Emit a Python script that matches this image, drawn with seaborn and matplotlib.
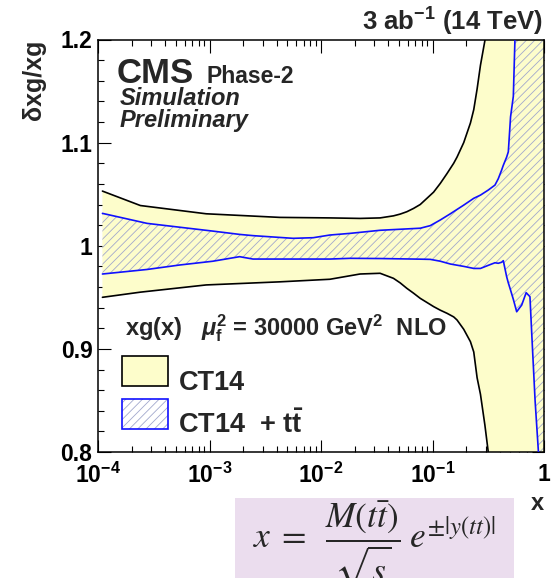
import matplotlib
matplotlib.use("Agg")
import matplotlib.pyplot as plt
import seaborn as sns
import numpy as np
import pandas as pd
from matplotlib.patches import Rectangle
from matplotlib.ticker import FixedLocator, LogLocator, MultipleLocator, NullFormatter

# ---------------- data ----------------
ct14_x = [1.096e-4, 2.399e-4, 9.333e-4, 4.266e-3, 0.01202, 0.02239, 0.03388, 0.04467,
          0.05129, 0.05888, 0.06761, 0.07762, 0.08913, 0.1023, 0.1175, 0.1349,
          0.1549, 0.1660, 0.1905, 0.2188, 0.2344, 0.2512, 0.2692, 0.2951, 0.3162,
          0.3981, 0.6310, 1.0]
ct14_up = [1.053, 1.039, 1.031, 1.0275, 1.027, 1.0265, 1.027, 1.029,
           1.0307, 1.033, 1.0362, 1.040, 1.046, 1.052, 1.0605, 1.070,
           1.080, 1.086, 1.100, 1.119, 1.132, 1.152, 1.175, 1.199, 1.23,
           1.4, 1.8, 2.2]
ct14_lo = [0.950, 0.955, 0.962, 0.965, 0.9675, 0.9726, 0.9733, 0.9684,
           0.964, 0.9587, 0.954, 0.949, 0.945, 0.941, 0.9375, 0.9345,
           0.931, 0.928, 0.919, 0.907, 0.897, 0.872, 0.856, 0.826, 0.80,
           0.70, 0.5, 0.3]

tt_x = [1.096e-4, 2.754e-4, 5.370e-4, 1.072e-3, 1.862e-3, 2.455e-3, 5.623e-3, 8.511e-3,
        0.01202, 0.01820, 0.03388, 0.07762, 0.09550, 0.1175, 0.1445, 0.1905, 0.2344,
        0.2692, 0.3162, 0.3631, 0.3890, 0.4169, 0.4315, 0.4624, 0.4786, 0.5012,
        0.5309, 0.5689, 0.6310, 0.6918, 0.7482, 0.7762, 0.8318, 0.8913, 0.9550, 1.0]
tt_up = [1.0314, 1.0217, 1.018, 1.0142, 1.011, 1.0098, 1.0072, 1.0078,
         1.0104, 1.012, 1.015, 1.017, 1.0195, 1.025, 1.031, 1.0394, 1.046,
         1.0491, 1.054, 1.0588, 1.065, 1.0734, 1.078, 1.086, 1.0911, 1.125,
         1.145, 1.26, 1.5, 1.7, 1.8, 1.9, 2.0, 2.1, 2.2, 2.3]
tt_lo = [0.9726, 0.977, 0.9813, 0.985, 0.9894, 0.9871, 0.9871, 0.9871,
         0.9871, 0.9878, 0.9876, 0.9870, 0.9868, 0.985, 0.9823, 0.980, 0.978,
         0.978, 0.981, 0.9835, 0.983, 0.984, 0.9855, 0.970, 0.964, 0.957,
         0.948, 0.936, 0.9425, 0.9545, 0.9506, 0.915, 0.850, 0.80, 0.6, 0.4]

xtick_vals = [1e-4, 1e-3, 1e-2, 1e-1, 1.0]
xtick_labels = [r"$\mathbf{10^{-4}}$", r"$\mathbf{10^{-3}}$", r"$\mathbf{10^{-2}}$",
                r"$\mathbf{10^{-1}}$", "1"]
ytick_vals = [0.8, 0.9, 1.0, 1.1, 1.2]
ytick_labels = ["0.8", "0.9", "1", "1.1", "1.2"]

series_names = ["CT14", r"CT14  + $\mathbf{t\bar{t}}$"]

# ---------------- style ----------------
sns.set_theme(style="ticks")
plt.rcParams["font.family"] = ["Liberation Sans", "DejaVu Sans"]
plt.rcParams["font.weight"] = "normal"
plt.rcParams["mathtext.fontset"] = "custom"
plt.rcParams["mathtext.rm"] = "Liberation Sans:bold"
plt.rcParams["mathtext.bf"] = "Liberation Sans:bold"
plt.rcParams["mathtext.it"] = "Liberation Sans:bold:italic"
plt.rcParams["mathtext.sf"] = "Liberation Sans:bold"
plt.rcParams["hatch.linewidth"] = 0.6

yellow = "#fdfdcb"
hatch_col = "#a2a8cc"
blue = "#1010ff"

W, H = 555, 578
fig = plt.figure(figsize=(W / 100, H / 100), dpi=100)
fig.patch.set_facecolor("white")
L, R, T, B = 98, 544, 39.5, 452
ax = fig.add_axes([L / W, 1 - B / H, (R - L) / W, (B - T) / H])
ax.set_facecolor("white")
ax.set_xscale("log")

# CT14 band
ax.fill_between(ct14_x, ct14_lo, ct14_up, facecolor=yellow, edgecolor="none", zorder=1)
sns.lineplot(x=ct14_x, y=ct14_up, ax=ax, color="black", lw=1.2, estimator=None,
             sort=False, legend=False, zorder=3)
sns.lineplot(x=ct14_x, y=ct14_lo, ax=ax, color="black", lw=1.2, estimator=None,
             sort=False, legend=False, zorder=3)

# CT14 + ttbar band
ax.fill_between(tt_x, tt_lo, tt_up, facecolor="none", edgecolor=hatch_col,
                hatch="////", linewidth=0, zorder=2)
sns.lineplot(x=tt_x, y=tt_up, ax=ax, color=blue, lw=1.2, estimator=None,
             sort=False, legend=False, zorder=4)
sns.lineplot(x=tt_x, y=tt_lo, ax=ax, color=blue, lw=1.2, estimator=None,
             sort=False, legend=False, zorder=4)

ax.set_xlim(1e-4, 1.0)
ax.set_ylim(0.8, 1.2)
ax.set_xlabel("")
ax.set_ylabel("")

ax.xaxis.set_major_locator(FixedLocator(xtick_vals))
ax.set_xticklabels(xtick_labels)
ax.xaxis.set_minor_locator(LogLocator(base=10, subs=np.arange(2, 10)))
ax.xaxis.set_minor_formatter(NullFormatter())
ax.yaxis.set_major_locator(FixedLocator(ytick_vals))
ax.set_yticklabels(ytick_labels)
ax.yaxis.set_minor_locator(MultipleLocator(0.02))

ax.tick_params(which="both", direction="in", top=True, right=True, width=0.8,
               colors="black")
ax.tick_params(axis="x", which="major", labelsize=16.5, pad=8)
ax.tick_params(axis="y", which="major", labelsize=16.5, pad=4)
ax.tick_params(which="major", length=9)
ax.tick_params(which="minor", length=4.5)
for lab in ax.get_xticklabels() + ax.get_yticklabels():
    lab.set_fontweight("bold")
for s in ax.spines.values():
    s.set_linewidth(1.1)
    s.set_color("black")
    s.set_visible(True)


def axf(px, py):
    return ((px - L) / (R - L), (B - py) / (B - T))


# CMS labels
ax.text(*axf(117, 83), "CMS", fontsize=25, fontweight="bold", transform=ax.transAxes,
        va="baseline", ha="left")
ax.text(*axf(207, 83), "Phase-2", fontsize=16.5, fontweight="bold", transform=ax.transAxes,
        va="baseline", ha="left")
ax.text(*axf(120, 105), "Simulation", fontsize=17, fontweight="bold", fontstyle="italic",
        transform=ax.transAxes, va="baseline", ha="left")
ax.text(*axf(120, 127.5), "Preliminary", fontsize=17, fontweight="bold", fontstyle="italic",
        transform=ax.transAxes, va="baseline", ha="left")

# process text
ax.text(*axf(125, 335), r"xg(x)   $\mu_{\mathrm{f}}^{2}$ = 30000 GeV$^{2}$  NLO",
        fontsize=17, fontweight="bold", transform=ax.transAxes, va="baseline", ha="left")

# legend (drawn manually, ROOT style)
x0, y0 = axf(121.7, 386)
x1, y1 = axf(167.8, 356)
ax.add_patch(Rectangle((x0, y0), x1 - x0, y1 - y0, transform=ax.transAxes,
                       facecolor=yellow, edgecolor="black", lw=1.2, zorder=6))
x0, y0 = axf(121.7, 429.3)
x1, y1 = axf(167.8, 399)
ax.add_patch(Rectangle((x0, y0), x1 - x0, y1 - y0, transform=ax.transAxes,
                       facecolor="white", edgecolor=hatch_col, hatch="////", lw=0, zorder=6))
ax.add_patch(Rectangle((x0, y0), x1 - x0, y1 - y0, transform=ax.transAxes,
                       facecolor="none", edgecolor=blue, lw=1.2, zorder=7))
ax.text(*axf(178.4, 390), series_names[0], fontsize=19.5, fontweight="bold",
        transform=ax.transAxes, va="baseline", ha="left")
ax.text(*axf(178.4, 432.7), series_names[1], fontsize=19.5, fontweight="bold",
        transform=ax.transAxes, va="baseline", ha="left")

# figure-level labels
fig.text(543 / W, 1 - 31 / H, r"3 ab$^{\mathbf{-1}}$ (14 TeV)", fontsize=18.5,
         fontweight="bold", ha="right", va="baseline")
fig.text(34 / W, 1 - 39.3 / H, "δxg/xg", fontsize=18, fontweight="bold",
         rotation=90, ha="center", va="top")
fig.text(537 / W, 1 - 504 / H, "x", fontsize=17, fontweight="bold",
         ha="center", va="center")

# formula box
fig.patches.append(Rectangle((235 / W, 0), (513.8 - 235) / W, (578 - 498) / H,
                             transform=fig.transFigure, facecolor="#ebddee",
                             edgecolor="none", zorder=0))
fig.text(374 / W, 1 - 547 / H,
         r"$x\;=\;\;\dfrac{M(t\bar{t})}{\sqrt{s}}\;e^{\pm|y(tt)|}$",
         fontsize=25.5, math_fontfamily="stix", ha="center", va="baseline",
         fontweight="normal")

fig.savefig("out.png", dpi=100)
